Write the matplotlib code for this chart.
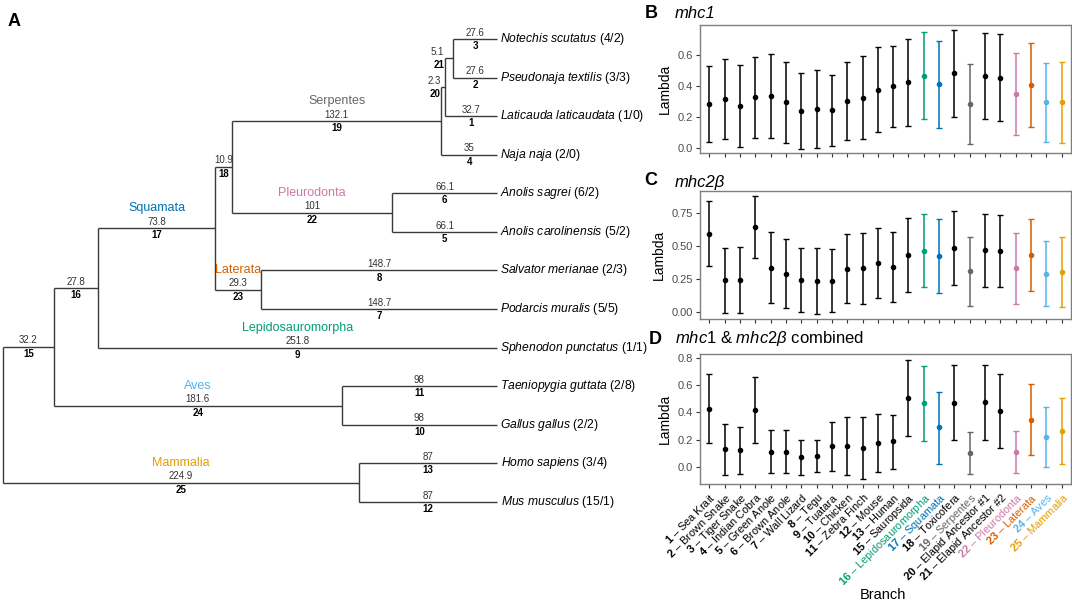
import matplotlib
matplotlib.use('Agg')
import matplotlib.pyplot as plt
import numpy as np

plt.rcParams['font.family'] = ['Liberation Sans', 'DejaVu Sans']
plt.rcParams['mathtext.fontset'] = 'custom'
plt.rcParams['mathtext.rm'] = 'Liberation Sans'
plt.rcParams['mathtext.it'] = 'Liberation Sans:italic'
plt.rcParams['mathtext.bf'] = 'Liberation Sans:bold'

# ---- tree data ----
tips = ['Notechis scutatus', 'Pseudonaja textilis', 'Laticauda laticaudata', 'Naja naja',
        'Anolis sagrei', 'Anolis carolinensis', 'Salvator merianae', 'Podarcis muralis',
        'Sphenodon punctatus', 'Taeniopygia guttata', 'Gallus gallus', 'Homo sapiens',
        'Mus musculus']
tip_counts = ['(4/2)', '(3/3)', '(1/0)', '(2/0)', '(6/2)', '(5/2)', '(2/3)', '(5/5)',
              '(1/1)', '(2/8)', '(2/2)', '(3/4)', '(15/1)']

# parent, child, branch length (Myr), branch id
edges = [
    ('root', 'n15', 32.2, 15), ('root', 'n25', 224.9, 25),
    ('n15', 'n16', 27.8, 16), ('n15', 'n24', 181.6, 24),
    ('n16', 'n17', 73.8, 17), ('n16', 'Sphenodon punctatus', 251.8, 9),
    ('n17', 'n18', 10.9, 18), ('n17', 'n23', 29.3, 23),
    ('n18', 'n19', 132.1, 19), ('n18', 'n22', 101, 22),
    ('n19', 'n20', 2.3, 20), ('n19', 'Naja naja', 35, 4),
    ('n20', 'n21', 5.1, 21), ('n20', 'Laticauda laticaudata', 32.7, 1),
    ('n21', 'Notechis scutatus', 27.6, 3), ('n21', 'Pseudonaja textilis', 27.6, 2),
    ('n22', 'Anolis sagrei', 66.1, 6), ('n22', 'Anolis carolinensis', 66.1, 5),
    ('n23', 'Salvator merianae', 148.7, 8), ('n23', 'Podarcis muralis', 148.7, 7),
    ('n24', 'Taeniopygia guttata', 98, 11), ('n24', 'Gallus gallus', 98, 10),
    ('n25', 'Homo sapiens', 87, 13), ('n25', 'Mus musculus', 87, 12),
]
clade_names = {17: 'Squamata', 19: 'Serpentes', 22: 'Pleurodonta', 23: 'Laterata',
               9: 'Lepidosauromorpha', 24: 'Aves', 25: 'Mammalia'}
clade_colors = {17: '#0072B2', 19: '#666666', 22: '#CC79A7', 23: '#D55E00',
                9: '#009E73', 24: '#56B4E9', 25: '#E69F00'}

# ---- lambda estimates ----
branches = [1, 2, 3, 4, 5, 6, 7, 8, 9, 10, 11, 12, 13, 15, 16, 17, 18, 19, 20, 21, 22, 23, 24, 25]
names = ['Sea Krait', 'Brown Snake', 'Tiger Snake', 'Indian Cobra', 'Green Anole',
         'Brown Anole', 'Wall Lizard', 'Tegu', 'Tuatara', 'Chicken', 'Zebra Finch', 'Mouse',
         'Human', 'Sauropsida', 'Lepidosauromorpha', 'Squamata', 'Toxicofera', 'Serpentes',
         'Elapid Ancestor #1', 'Elapid Ancestor #2', 'Pleurodonta', 'Laterata', 'Aves',
         'Mammalia']
branch_colors = ['black'] * 14 + ['#009E73', '#0072B2', 'black', '#666666', 'black', 'black',
                                  '#CC79A7', '#D55E00', '#56B4E9', '#E69F00']

mhc1_est = [0.285, 0.315, 0.272, 0.328, 0.336, 0.296, 0.238, 0.251, 0.244, 0.306, 0.326, 0.377,
            0.399, 0.424, 0.465, 0.411, 0.482, 0.283, 0.463, 0.454, 0.351, 0.409, 0.296, 0.296]
mhc1_lo = [0.039, 0.058, 0.009, 0.066, 0.066, 0.034, -0.004, 0.0, 0.017, 0.051, 0.058, 0.105,
           0.139, 0.141, 0.191, 0.133, 0.201, 0.026, 0.189, 0.178, 0.086, 0.139, 0.043, 0.032]
mhc1_hi = [0.53, 0.572, 0.536, 0.589, 0.604, 0.553, 0.482, 0.504, 0.471, 0.557, 0.591, 0.651,
           0.66, 0.703, 0.746, 0.69, 0.759, 0.542, 0.741, 0.733, 0.615, 0.677, 0.546, 0.555]

mhc2_est = [0.595, 0.239, 0.244, 0.649, 0.336, 0.29, 0.239, 0.234, 0.237, 0.328, 0.331, 0.374,
            0.341, 0.433, 0.466, 0.425, 0.483, 0.308, 0.468, 0.461, 0.331, 0.433, 0.29, 0.3]
mhc2_lo = [0.349, -0.01, -0.008, 0.407, 0.066, 0.028, -0.005, -0.018, -0.003, 0.064, 0.059,
           0.107, 0.074, 0.15, 0.188, 0.145, 0.201, 0.046, 0.188, 0.188, 0.061, 0.158, 0.043,
           0.036]
mhc2_hi = [0.842, 0.489, 0.496, 0.885, 0.606, 0.552, 0.483, 0.489, 0.481, 0.59, 0.598, 0.641,
           0.606, 0.712, 0.746, 0.705, 0.766, 0.57, 0.748, 0.735, 0.598, 0.707, 0.539, 0.567]

comb_est = [0.428, 0.13, 0.12, 0.416, 0.11, 0.11, 0.071, 0.078, 0.149, 0.152, 0.139, 0.174,
            0.188, 0.502, 0.465, 0.289, 0.472, 0.1, 0.475, 0.411, 0.11, 0.347, 0.218, 0.264]
comb_lo = [0.176, -0.059, -0.054, 0.171, -0.049, -0.049, -0.064, -0.039, -0.029, -0.061, -0.09,
           -0.042, -0.015, 0.223, 0.191, 0.022, 0.198, -0.051, 0.196, 0.135, -0.044, 0.086,
           -0.005, 0.022]
comb_hi = [0.68, 0.313, 0.291, 0.66, 0.272, 0.272, 0.2, 0.193, 0.33, 0.365, 0.365, 0.387,
           0.384, 0.783, 0.744, 0.55, 0.746, 0.252, 0.751, 0.685, 0.264, 0.607, 0.438, 0.502]

W, H = 1072, 604
fig = plt.figure(figsize=(W / 100, H / 100), dpi=100)


def px_axes(left, top, right, bottom):
    return fig.add_axes([left / W, 1 - bottom / H, (right - left) / W, (bottom - top) / H])


# ---- tree layout ----
children = {}
blen = {}
for p, c, l, b in edges:
    children.setdefault(p, []).append(c)
    blen[c] = l

xpos = {'root': 0.0}
ypos = {t: i for i, t in enumerate(tips)}


def place(node):
    for c in children.get(node, []):
        xpos[c] = xpos[node] + blen[c]
        place(c)
    if node in children:
        ypos[node] = np.mean([ypos[c] for c in children[node]])


place('root')

ax = px_axes(0, 0, 630, 604)
pxx = 1.584
ax.set_xlim(-3 / pxx, 627 / pxx)
tip_gap = 38.58
ax.set_ylim((604 - 39) / tip_gap, -39 / tip_gap)
ax.axis('off')

lc = '#3a3a3a'
for node, kids in children.items():
    ys = [ypos[c] for c in kids]
    ax.plot([xpos[node]] * 2, [min(ys), max(ys)], color=lc, lw=1.0, solid_capstyle='butt')
for p, c, l, b in edges:
    ax.plot([xpos[p], xpos[c]], [ypos[c]] * 2, color=lc, lw=1.0, solid_capstyle='butt')
    yy = ypos[c]
    if b in (20, 21):
        xm, ha = xpos[p] - 0.6, 'right'
    else:
        xm, ha = (xpos[p] + xpos[c]) / 2, 'center'
    ax.annotate(f'{l:g}', (xm, yy), xytext=(0, 1.0), textcoords='offset points', ha=ha,
                va='bottom', fontsize=7, color='#333333')
    ax.annotate(str(b), (xm, yy), xytext=(0, -1.5), textcoords='offset points', ha=ha,
                va='top', fontsize=7, fontweight='bold', color='black')
    if b in clade_names:
        ax.annotate(clade_names[b], (xm, yy), xytext=(0, 10), textcoords='offset points',
                    ha='center', va='bottom', fontsize=9, color=clade_colors[b])

for t, cnt in zip(tips, tip_counts):
    sp = t.replace(' ', r'\ ')
    ax.annotate(rf'$\mathit{{{sp}}}$ {cnt}', (xpos[t], ypos[t]), xytext=(2.5, 0),
                textcoords='offset points', ha='left', va='center', fontsize=8.7)

fig.text(14 / W, 1 - 22 / H, 'A', fontsize=13, fontweight='bold', ha='center', va='center')

# ---- lambda panels ----
pos = np.arange(1, len(branches) + 1)


def panel(ax, est, lo, hi, yticks, fmt, ylim):
    for i in range(len(pos)):
        c = branch_colors[i]
        ax.errorbar(pos[i], est[i], yerr=[[est[i] - lo[i]], [hi[i] - est[i]]], fmt='o',
                    ms=3.0, color=c, mec=c, ecolor=c, elinewidth=1.1, capsize=2.0,
                    capthick=1.0)
    ax.set_xlim(0.4, len(pos) + 0.6)
    ax.set_ylim(*ylim)
    ax.set_xticks(pos)
    ax.set_yticks(yticks)
    ax.set_yticklabels([fmt.format(v) for v in yticks])
    for s in ax.spines.values():
        s.set_color('#7f7f7f')
        s.set_linewidth(1.0)
    ax.tick_params(length=3, width=0.8, color='#333333', labelsize=8, labelcolor='#4d4d4d',
                   pad=2)
    ax.set_ylabel('Lambda', fontsize=10, labelpad=4)


axB = px_axes(700, 25, 1071, 153)
panel(axB, mhc1_est, mhc1_lo, mhc1_hi, [0.0, 0.2, 0.4, 0.6], '{:.1f}', (-0.03, 0.793))
axB.set_xticklabels([])

axC = px_axes(700, 191, 1071, 319)
panel(axC, mhc2_est, mhc2_lo, mhc2_hi, [0.0, 0.25, 0.5, 0.75], '{:.2f}', (-0.056, 0.92))
axC.set_xticklabels([])

axD = px_axes(700, 354, 1071, 484)
panel(axD, comb_est, comb_lo, comb_hi, [0.0, 0.2, 0.4, 0.6, 0.8], '{:.1f}', (-0.127, 0.829))
labels = [rf'$\mathbf{{{b}}}$ – {n}' for b, n in zip(branches, names)]
axD.set_xticklabels(labels, rotation=45, ha='right', rotation_mode='anchor', fontsize=7.9)
for tl, c in zip(axD.get_xticklabels(), branch_colors):
    tl.set_color(c)

fig.text(651 / W, 1 - 14 / H, 'B', fontsize=13, fontweight='bold', ha='center', va='center')
fig.text(675 / W, 1 - 13 / H, 'mhc1', fontsize=12, style='italic', ha='left', va='center')
fig.text(651 / W, 1 - 181 / H, 'C', fontsize=13, fontweight='bold', ha='center', va='center')
fig.text(675 / W, 1 - 182 / H, 'mhc2β', fontsize=12, style='italic', ha='left', va='center')
fig.text(655 / W, 1 - 339 / H, 'D', fontsize=13, fontweight='bold', ha='center', va='center')
fig.text(675 / W, 1 - 338 / H, r'$\mathit{mhc1}$ & $\mathit{mhc2β}$ combined', fontsize=12,
         ha='left', va='center')
fig.text(883 / W, 1 - 595 / H, 'Branch', fontsize=10.5, ha='center', va='center')

fig.savefig('out.png', dpi=100)
